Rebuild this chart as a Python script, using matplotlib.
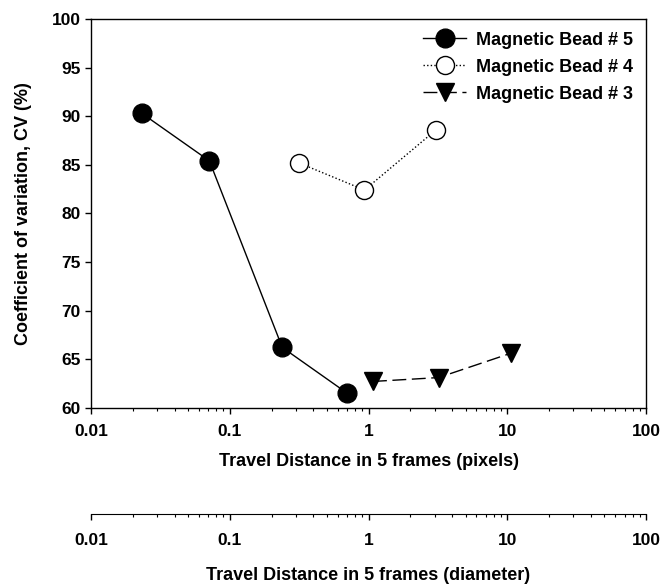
import numpy as np
import matplotlib
matplotlib.use("Agg")
import matplotlib.pyplot as plt
from matplotlib.ticker import LogLocator, FixedLocator, FixedFormatter, NullFormatter


# --------------------------------------------------
# dados
# --------------------------------------------------
bead5_x = [0.0232, 0.0713, 0.239, 0.70]
bead5_cv = [90.3, 85.4, 66.2, 61.5]

bead4_x = [0.314, 0.935, 3.07]
bead4_cv = [85.2, 82.4, 88.6]

bead3_x = [1.077, 3.2, 10.6]
bead3_cv = [62.7, 63.1, 65.6]

x_ticks = [0.01, 0.1, 1, 10, 100]
x_tick_labels = ["0.01", "0.1", "1", "10", "100"]
y_ticks = [60, 65, 70, 75, 80, 85, 90, 95, 100]

plt.rcParams["font.family"] = ["Liberation Sans", "DejaVu Sans"]
plt.rcParams["font.weight"] = "bold"
plt.rcParams["font.size"] = 13


def eixo_log(ax, pad):
    ax.set_xscale("log")
    ax.set_xlim(0.01, 100)
    ax.xaxis.set_major_locator(FixedLocator(x_ticks))
    ax.xaxis.set_major_formatter(FixedFormatter(x_tick_labels))
    ax.xaxis.set_minor_locator(LogLocator(base=10, subs=np.arange(2, 10)))
    ax.xaxis.set_minor_formatter(NullFormatter())
    ax.tick_params(axis="x", which="major", direction="out", length=4, width=1,
                   pad=pad, labelsize=12.5)
    ax.tick_params(axis="x", which="minor", direction="out", length=2.3, width=0.8)


fig = plt.figure(figsize=(6.63, 5.85), dpi=100)

# -------------------------
# eixo principal
# -------------------------
ax = fig.add_axes([0.1373, 0.3031, 0.8371, 0.6644])

ax.plot(bead5_x, bead5_cv, color="black", linestyle="-", linewidth=1,
        marker="o", markersize=13.5, markerfacecolor="black",
        markeredgecolor="black", label="Magnetic Bead # 5")
ax.plot(bead4_x, bead4_cv, color="black", linestyle=(0, (1, 1.6)), linewidth=1,
        marker="o", markersize=13, markerfacecolor="white",
        markeredgecolor="black", markeredgewidth=1, label="Magnetic Bead # 4")
ax.plot(bead3_x, bead3_cv, color="black", linestyle=(0, (10, 4)), linewidth=1,
        marker="v", markersize=13.5, markerfacecolor="black",
        markeredgecolor="black", label="Magnetic Bead # 3")

eixo_log(ax, pad=8)
ax.set_ylim(60, 100)
ax.set_yticks(y_ticks)
ax.tick_params(axis="y", direction="out", length=4, width=1, pad=3.5, labelsize=12.5)

ax.set_xlabel("Travel Distance in 5 frames (pixels)", fontsize=13, fontweight="bold")
ax.xaxis.set_label_coords(0.5, -0.1397)
ax.xaxis.label.set_va("center")
ax.set_ylabel("Coefficient of variation, CV (%)", fontsize=13, fontweight="bold")
ax.yaxis.set_label_coords(-0.1225, 0.5)
ax.yaxis.label.set_va("center")

for lado in ["top", "right", "left", "bottom"]:
    ax.spines[lado].set_linewidth(1)

ax.legend(loc="upper right", frameon=False, fontsize=13, handlelength=2.4,
          handletextpad=0.55, labelspacing=0.55, borderaxespad=0.3)

# -------------------------
# eixo inferior (diametro)
# -------------------------
ax2 = fig.add_axes([0.1373, 0.1214, 0.8371, 0.0001])
ax2.patch.set_visible(False)
for lado in ["top", "right", "left"]:
    ax2.spines[lado].set_visible(False)
ax2.set_yticks([])
eixo_log(ax2, pad=9.5)

fig.text(0.1373 + 0.8371 / 2, 1 - 575 / 585, "Travel Distance in 5 frames (diameter)",
         ha="center", va="center", fontsize=13, fontweight="bold")

fig.savefig("out.png", dpi=100)
